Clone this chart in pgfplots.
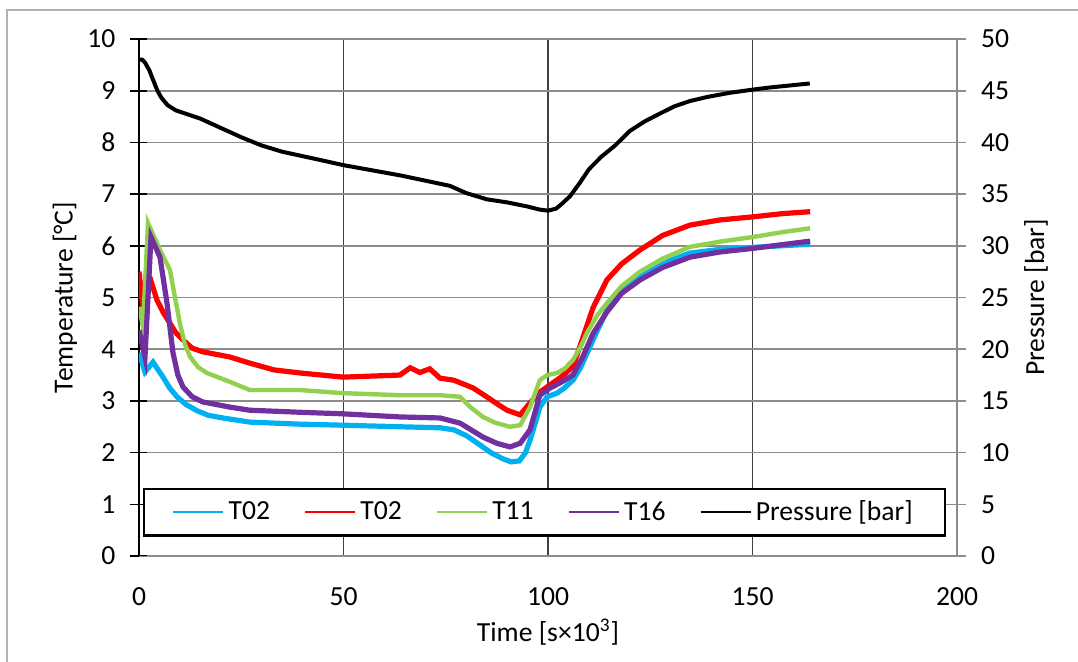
\documentclass[border=0pt]{standalone}
\usepackage{fontspec}
\setmainfont{Carlito}
\usepackage{pgfplots}
\pgfplotsset{compat=1.18}
\definecolor{cT}{RGB}{0,176,240}
\definecolor{rT}{RGB}{255,0,0}
\definecolor{gT}{RGB}{146,208,80}
\definecolor{pT}{RGB}{112,48,160}
\definecolor{gridg}{RGB}{140,140,140}
\begin{document}
\begin{tikzpicture}
\useasboundingbox (-69.5pt,-52.5pt) rectangle (469.5pt,278pt);
\draw[gray!60, line width=0.7pt] (-66pt,-53pt) -- (-66pt,273pt) -- (470pt,273pt);
\pgfplotsset{every axis/.append style={font=\fontsize{13.8}{16}\selectfont,
  /pgf/number format/assume math mode=true}}
\begin{axis}[
  scale only axis, width=409pt, height=258.5pt,
  xmin=0, xmax=200, ymin=0, ymax=10,
  axis x line*=bottom, axis y line*=left,
  x axis line style={gridg, -}, y axis line style={black, -, line width=0.8pt},
  xtick={0,50,100,150,200}, ytick={0,1,...,10},
  xmajorgrids, ymajorgrids,
  x grid style={black!75, line width=0.6pt},
  y grid style={gridg, line width=0.8pt},
  xtick style={draw=none},
  ytick style={black, line width=0.8pt},
  tick align=center, major tick length=8.5pt,
  xticklabel style={yshift=-8pt},
  yticklabel style={xshift=-4pt},
  xlabel={Time [s×10\textsuperscript{3}]},
  ylabel={Temperature [°C]},
  xlabel style={at={(axis description cs:0.5,-0.147)}, anchor=center},
  ylabel style={at={(axis description cs:-0.0905,0.5)}, anchor=center},
]
\addplot[cT, line width=2.6pt] coordinates {
(0,3.93) (1.47,3.56) (3.42,3.75) (5.87,3.46) (7.5,3.25) (9.29,3.08) (11.5,2.93) (14.2,2.81) (17,2.72) (20.5,2.67) (27.1,2.59)
(39.4,2.55) (49.9,2.53) (63.8,2.50) (73.6,2.48) (77,2.44) (80,2.33) (83,2.17) (86,2.0) (89,1.88) (91,1.82) (93,1.84)
(94.5,2.0) (95.6,2.24) (97,2.6) (98.0,2.88) (99.8,3.08) (102.2,3.15) (104,3.25) (106.1,3.40) (108,3.65) (110,4.0) (112,4.35) (114.4,4.75)
(117,5.05) (120,5.25) (122.5,5.40) (127,5.6) (130,5.72) (134.7,5.86) (142,5.93) (150,5.97) (157,6.0) (164.1,6.03)};
\addplot[rT, line width=2.6pt] coordinates {
(0,5.5) (0.98,4.76) (1.71,5.40) (2.69,5.38) (4.40,4.95) (6,4.7) (7.58,4.50) (9,4.32) (10.76,4.18) (13,4.02) (15.6,3.95)
(22.2,3.85) (27.1,3.73) (33,3.6) (39.4,3.54) (49.9,3.46) (63.8,3.50) (66.3,3.64) (68.7,3.55) (71.1,3.62)
(73.6,3.44) (77,3.40) (81.7,3.25) (85,3.08) (88,2.92) (90.0,2.82) (93.2,2.73) (95.6,2.96) (98.0,3.17) (100.5,3.31) (103,3.45) (106.1,3.66)
(108.6,4.24) (111,4.8) (114.4,5.34) (118,5.65) (122.5,5.92) (128,6.2) (134.7,6.4) (142,6.5) (150.1,6.56) (157,6.62) (164.1,6.66)};
\addplot[gT, line width=2.2pt] coordinates {
(0,4.82) (0.98,4.43) (2.20,6.44) (5.13,5.92) (7.58,5.53) (8.8,5.0) (10.0,4.50) (11.2,4.1) (12.5,3.85) (14.5,3.65) (16.6,3.54)
(22.2,3.37) (27.1,3.21) (39.4,3.21) (49.9,3.15) (63.8,3.11) (73.6,3.11) (78.5,3.08) (81,2.88) (84.1,2.69) (87,2.58)
(90.7,2.50) (93.2,2.53) (95.6,2.88) (98.0,3.40) (99.8,3.50) (102.2,3.54) (104,3.62) (106.1,3.79) (108,4.05) (109.5,4.31) (112,4.65)
(114.4,4.89) (118,5.22) (122.5,5.50) (128,5.75) (134.7,5.98) (142,6.08) (150.1,6.17) (157,6.26) (164.1,6.34)};
\addplot[pT, line width=2.6pt] coordinates {
(0,4.37) (1.47,3.85) (2.93,6.17) (5.13,5.78) (6.85,4.89) (8.31,3.93) (9.5,3.5) (10.76,3.27) (13,3.08) (15.6,2.98)
(22.2,2.88) (27.1,2.82) (39.4,2.78) (49.9,2.75) (63.8,2.69) (73.6,2.67) (78.5,2.57) (81,2.45) (84.1,2.30) (87.5,2.18)
(90.7,2.11) (93.2,2.18) (95.6,2.44) (98.0,3.11) (100.5,3.25) (103,3.35) (106.1,3.50) (108.5,3.85) (111.0,4.3) (114.4,4.72)
(118,5.08) (122.5,5.34) (128,5.58) (134.7,5.78) (142,5.88) (150.1,5.95) (157,6.02) (164.1,6.09)};
\end{axis}
\begin{axis}[
  scale only axis, width=409pt, height=258.5pt,
  xmin=0, xmax=200, ymin=0, ymax=50,
  axis x line=none, axis y line*=right,
  y axis line style={gridg, -, line width=0.8pt},
  ytick={0,5,...,50},
  ytick style={gridg, line width=0.8pt},
  tick align=outside, major tick length=4.5pt,
  yticklabel style={xshift=4pt},
  ylabel={Pressure [bar]},
  ylabel style={at={(axis description cs:1.0966,0.5)}, anchor=center, rotate=0},
  legend columns=5,
  legend style={at={(0.4957,0.037)}, anchor=south, draw=black, line width=1.2pt,
    inner xsep=14pt, inner ysep=4pt,
    /tikz/every even column/.append style={column sep=15pt}},
  legend image code/.code={\draw[#1, line width=1.2pt] (0pt,0pt) -- (25pt,0pt);},
]
\addlegendimage{cT}\addlegendentry{T02}
\addlegendimage{rT}\addlegendentry{T02}
\addlegendimage{gT}\addlegendentry{T11}
\addlegendimage{pT}\addlegendentry{T16}
\addplot[black, line width=2pt] coordinates {
(0,48.0) (0.8,48.0) (1.5,47.7) (2.5,47.0) (3.5,46.0) (4.5,45.0) (5.5,44.3) (7,43.6) (9,43.1) (12,42.7) (15,42.3)
(20,41.4) (25,40.5) (30,39.7) (35,39.1) (42,38.5) (50,37.8) (57,37.3) (64,36.8) (70,36.3) (76,35.8) (80,35.1)
(85,34.5) (90,34.2) (95,33.8) (98,33.5) (100,33.4) (102,33.6) (103.5,34.1) (105.4,34.8) (107.8,36.1) (110,37.4)
(113,38.6) (116.4,39.7) (120,41.1) (123.5,42.0) (127.4,42.8) (131,43.5) (134.7,44.0) (139,44.4) (144.5,44.8)
(150,45.1) (154,45.3) (159,45.5) (164,45.7)};
\addlegendentry{Pressure [bar]}
\end{axis}
\end{tikzpicture}
\end{document}
